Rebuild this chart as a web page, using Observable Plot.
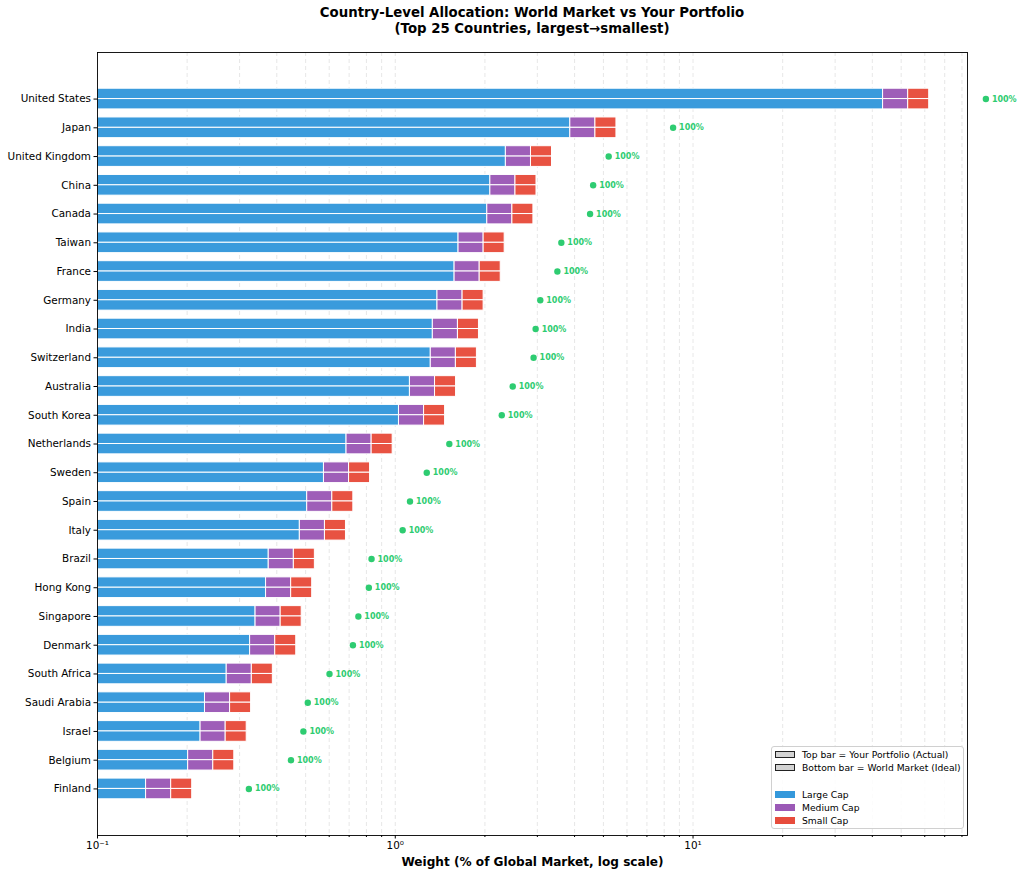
<!DOCTYPE html>
<html>
<head>
<meta charset="utf-8">
<script src="https://cdn.jsdelivr.net/npm/d3@7"></script>
<script src="https://cdn.jsdelivr.net/npm/@observablehq/plot@0.6"></script>
<style>
  body { margin: 0; background: #fff; font-family: "DejaVu Sans", sans-serif; }
  #wrap { position: relative; width: 1024px; height: 875px; overflow: hidden; background: #fff; }
  #title { position: absolute; left: 97px; width: 870px; top: 5px; text-align: center; font-weight: bold; font-size: 13.3px; line-height: 15.5px; color: #000; }
  #chart { position: absolute; left: 0; top: 44px; }
  #legend { position: absolute; left: 771px; top: 746px; width: 193px; height: 83px; box-sizing: border-box; border: 1px solid #d0d0d0; border-radius: 3px; background: rgba(255,255,255,0.85); padding-top: 1px; font-size: 9.2px; color: #000; }
  #legend .row { position: relative; height: 13.3px; line-height: 13.3px; padding-left: 30px; white-space: nowrap; }
  #legend .sw { position: absolute; left: 3px; top: 3px; width: 20px; height: 7px; box-sizing: border-box; }
  g[aria-label="x-axis label"] text { font-weight: bold; font-size: 12.1px; }
</style>
</head>
<body>
<div id="wrap">
  <div id="title"></div>
  <div id="chart"></div>
  <div id="legend"></div>
</div>
<script>
// ---- data ----
const titleLines = ["Country-Level Allocation: World Market vs Your Portfolio", "(Top 25 Countries, largest\u2192smallest)"];
const countries = ["United States","Japan","United Kingdom","China","Canada","Taiwan","France","Germany","India","Switzerland","Australia","South Korea","Netherlands","Sweden","Spain","Italy","Brazil","Hong Kong","Singapore","Denmark","South Africa","Saudi Arabia","Israel","Belgium","Finland"];
const worldWeight =     [62.1, 5.53, 3.36, 2.98, 2.91, 2.33, 2.26, 1.98, 1.91, 1.88, 1.60, 1.47, 0.98, 0.823, 0.723, 0.683, 0.537, 0.526, 0.485, 0.465, 0.388, 0.328, 0.317, 0.288, 0.208];
const portfolioWeight = [62.1, 5.53, 3.36, 2.98, 2.91, 2.33, 2.26, 1.98, 1.91, 1.88, 1.60, 1.47, 0.98, 0.823, 0.723, 0.683, 0.537, 0.526, 0.485, 0.465, 0.388, 0.328, 0.317, 0.288, 0.208];
const capNames = ["Large Cap", "Medium Cap", "Small Cap"];
const capShares = [0.70, 0.15, 0.15];
const capColors = ["#3498db", "#9b59b6", "#e74c3c"];
const barLegend = ["Top bar = Your Portfolio (Actual)", "Bottom bar = World Market (Ideal)"];
const xMajorTicks = [0.1, 1, 10];
const xTickLabels = ["10\u207B\u00B9", "10\u2070", "10\u00B9"];
const xLabel = "Weight (% of Global Market, log scale)";

// ---- layout constants ----
const xDomain = [0.1, 83.5];
const barH = 0.36;
const dotFactor = 1.55;
const green = "#2ecc71";

// ---- build tables ----
const segs = [];
const rows = countries.map((c, i) => ({ country: c, i, portfolio: portfolioWeight[i], world: worldWeight[i], pct: Math.round(portfolioWeight[i] / worldWeight[i] * 100) }));
rows.forEach(r => {
  [["Portfolio", r.portfolio, r.i - barH, r.i], ["World", r.world, r.i, r.i + barH]].forEach(([src, total, y1, y2]) => {
    let cum = 0;
    capShares.forEach((s, k) => {
      const x1 = k === 0 ? xDomain[0] : total * cum;
      cum += s;
      segs.push({ country: r.country, src, cap: capNames[k], x1, x2: total * cum, y1, y2 });
    });
  });
});

const allTicks = d3.scaleLog().domain(xDomain).ticks();
const minorTicks = allTicks.filter(t => !xMajorTicks.some(m => Math.abs(m - t) < 1e-9));

document.getElementById("title").innerHTML = titleLines.map(t => `<div>${t}</div>`).join("");

const chart = Plot.plot({
  width: 1024,
  height: 831,
  marginLeft: 97,
  marginRight: 57,
  marginTop: 8,
  marginBottom: 40,
  style: { fontFamily: "DejaVu Sans, sans-serif", fontSize: "10.4px", color: "#000", background: "transparent", overflow: "visible" },
  x: { type: "log", domain: xDomain },
  y: { type: "linear", domain: [-1.62, countries.length - 1 + 1.62], reverse: true },
  color: { domain: capNames, range: capColors },
  marks: [
    Plot.ruleX(allTicks, { stroke: "#d4d4d4", strokeOpacity: 0.7, strokeWidth: 0.8, strokeDasharray: "4,3" }),
    Plot.rect(segs, { x1: "x1", x2: "x2", y1: "y1", y2: "y2", fill: "cap", fillOpacity: 0.97, stroke: "white", strokeWidth: 1 }),
    Plot.dot(rows, { x: d => d.portfolio * dotFactor, y: "i", r: 3.2, fill: green, stroke: "none" }),
    Plot.text(rows, { x: d => d.portfolio * dotFactor, y: "i", text: d => `${d.pct}%`, dx: 6, textAnchor: "start", fill: green, fontWeight: "bold", fontSize: 8 }),
    Plot.axisY({ ticks: d3.range(countries.length), tickFormat: i => countries[i], tickSize: 3.5, tickPadding: 3, label: null }),
    Plot.axisX({ ticks: xMajorTicks, tickFormat: d => xTickLabels[xMajorTicks.indexOf(d)], tickSize: 3.5, tickPadding: 3, label: xLabel, labelAnchor: "center", labelArrow: "none", labelOffset: 30 }),
    Plot.axisX({ ticks: minorTicks, tickSize: 2, tickFormat: () => "", label: null }),
    Plot.frame({ stroke: "#000", strokeWidth: 0.9 })
  ]
});
document.getElementById("chart").appendChild(chart);

// legend
const lg = document.getElementById("legend");
let html = "";
barLegend.forEach(t => { html += `<div class="row"><span class="sw" style="background:#d3d3d3;border:1px solid #222"></span>${t}</div>`; });
html += `<div class="row"></div>`;
capNames.forEach((t, k) => { html += `<div class="row"><span class="sw" style="background:${capColors[k]}"></span>${t}</div>`; });
lg.innerHTML = html;
</script>
</body>
</html>
